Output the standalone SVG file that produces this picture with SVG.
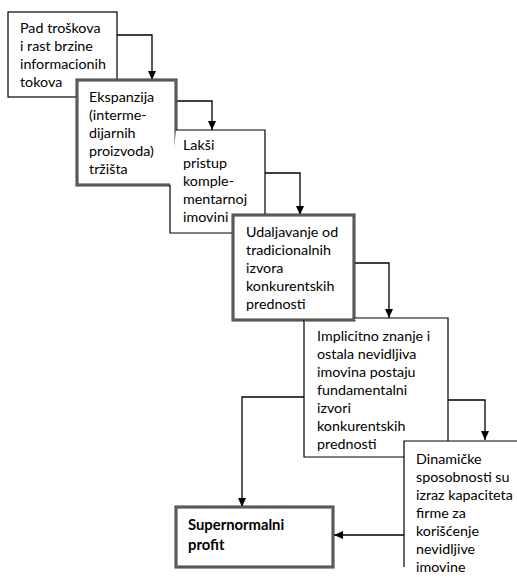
<svg xmlns="http://www.w3.org/2000/svg" width="517" height="577" viewBox="0 0 517 577">
<style>
.box{fill:#fff;stroke:#000;stroke-width:1.2}
.dbl{fill:#fff;stroke:#3a3a3a;stroke-width:3}
.dbl-in{fill:none;stroke:#8a8a8a;stroke-width:0.8}
.t{font-family:Lato,"Liberation Sans",sans-serif;font-size:14.3px;fill:#000}
.b{font-weight:bold;font-size:14.8px}
.c{fill:none;stroke:#000;stroke-width:1.3}
</style>
<defs>
<marker id="ah" markerWidth="10" markerHeight="10" refX="9" refY="5" orient="auto" markerUnits="userSpaceOnUse">
<path d="M0,1 L9,5 L0,9 Z" fill="#000"/>
</marker>
</defs>
<rect width="517" height="577" fill="#fff"/>
<g id="connectors">
<path class="c" d="M117,35 H152 V80" marker-end="url(#ah)"/>
<path class="c" d="M176,101 H212 V130" marker-end="url(#ah)"/>
<path class="c" d="M265,173 H300 V215" marker-end="url(#ah)"/>
<path class="c" d="M354,263 H389 V318" marker-end="url(#ah)"/>
<path class="c" d="M448,400 H485 V440" marker-end="url(#ah)"/>
<path class="c" d="M304,397 H242 V507" marker-end="url(#ah)"/>
<path class="c" d="M404,535 H334" marker-end="url(#ah)"/>
</g>
<g id="n1">
<rect class="box" x="8" y="12" width="109" height="85"/>
<text class="t"><tspan x="20" y="33">Pad troškova</tspan><tspan x="20" y="51">i rast brzine</tspan><tspan x="20" y="69">informacionih</tspan><tspan x="20" y="87">tokova</tspan></text>
</g>
<g id="n2">
<rect class="dbl" x="77" y="80" width="99" height="105"/>
<rect class="dbl-in" x="77" y="80" width="99" height="105"/>
<text class="t"><tspan x="89" y="102">Ekspanzija</tspan><tspan x="89" y="120">(interme-</tspan><tspan x="89" y="138">dijarnih</tspan><tspan x="89" y="156">proizvoda)</tspan><tspan x="89" y="174">tržišta</tspan></text>
</g>
<g id="n3">
<path class="box" d="M176,130 H265 V233 H170 V185"/>
<text class="t"><tspan x="183" y="150">Lakši</tspan><tspan x="183" y="168">pristup</tspan><tspan x="183" y="186">komple-</tspan><tspan x="183" y="204">mentarnoj</tspan><tspan x="183" y="222">imovini</tspan></text>
</g>
<g id="n4">
<rect class="dbl" x="233" y="215" width="121" height="105"/>
<rect class="dbl-in" x="233" y="215" width="121" height="105"/>
<text class="t"><tspan x="246" y="237">Udaljavanje od</tspan><tspan x="246" y="255">tradicionalnih</tspan><tspan x="246" y="273">izvora</tspan><tspan x="246" y="291">konkurentskih</tspan><tspan x="246" y="309">prednosti</tspan></text>
</g>
<g id="n5">
<path class="box" d="M354,318 H448 V441 M404,457 H304 V320"/>
<text class="t"><tspan x="317" y="341">Implicitno znanje i</tspan><tspan x="317" y="359">ostala nevidljiva</tspan><tspan x="317" y="377">imovina postaju</tspan><tspan x="317" y="395">fundamentalni</tspan><tspan x="317" y="413">izvori</tspan><tspan x="317" y="431">konkurentskih</tspan><tspan x="317" y="449">prednosti</tspan></text>
</g>
<g id="n6">
<path class="box" d="M520,441 H404 V567"/>
<text class="t"><tspan x="416" y="464">Dinamičke</tspan><tspan x="416" y="482">sposobnosti su</tspan><tspan x="416" y="500">izraz kapaciteta</tspan><tspan x="416" y="518">firme za</tspan><tspan x="416" y="536">korišćenje</tspan><tspan x="416" y="554">nevidljive</tspan><tspan x="416" y="572">imovine</tspan></text>
</g>
<g id="n7">
<rect class="dbl" x="176" y="507" width="157" height="60"/>
<rect class="dbl-in" x="176" y="507" width="157" height="60"/>
<text class="t b"><tspan x="188" y="530">Supernormalni</tspan><tspan x="188" y="550">profit</tspan></text>
</g>
</svg>
